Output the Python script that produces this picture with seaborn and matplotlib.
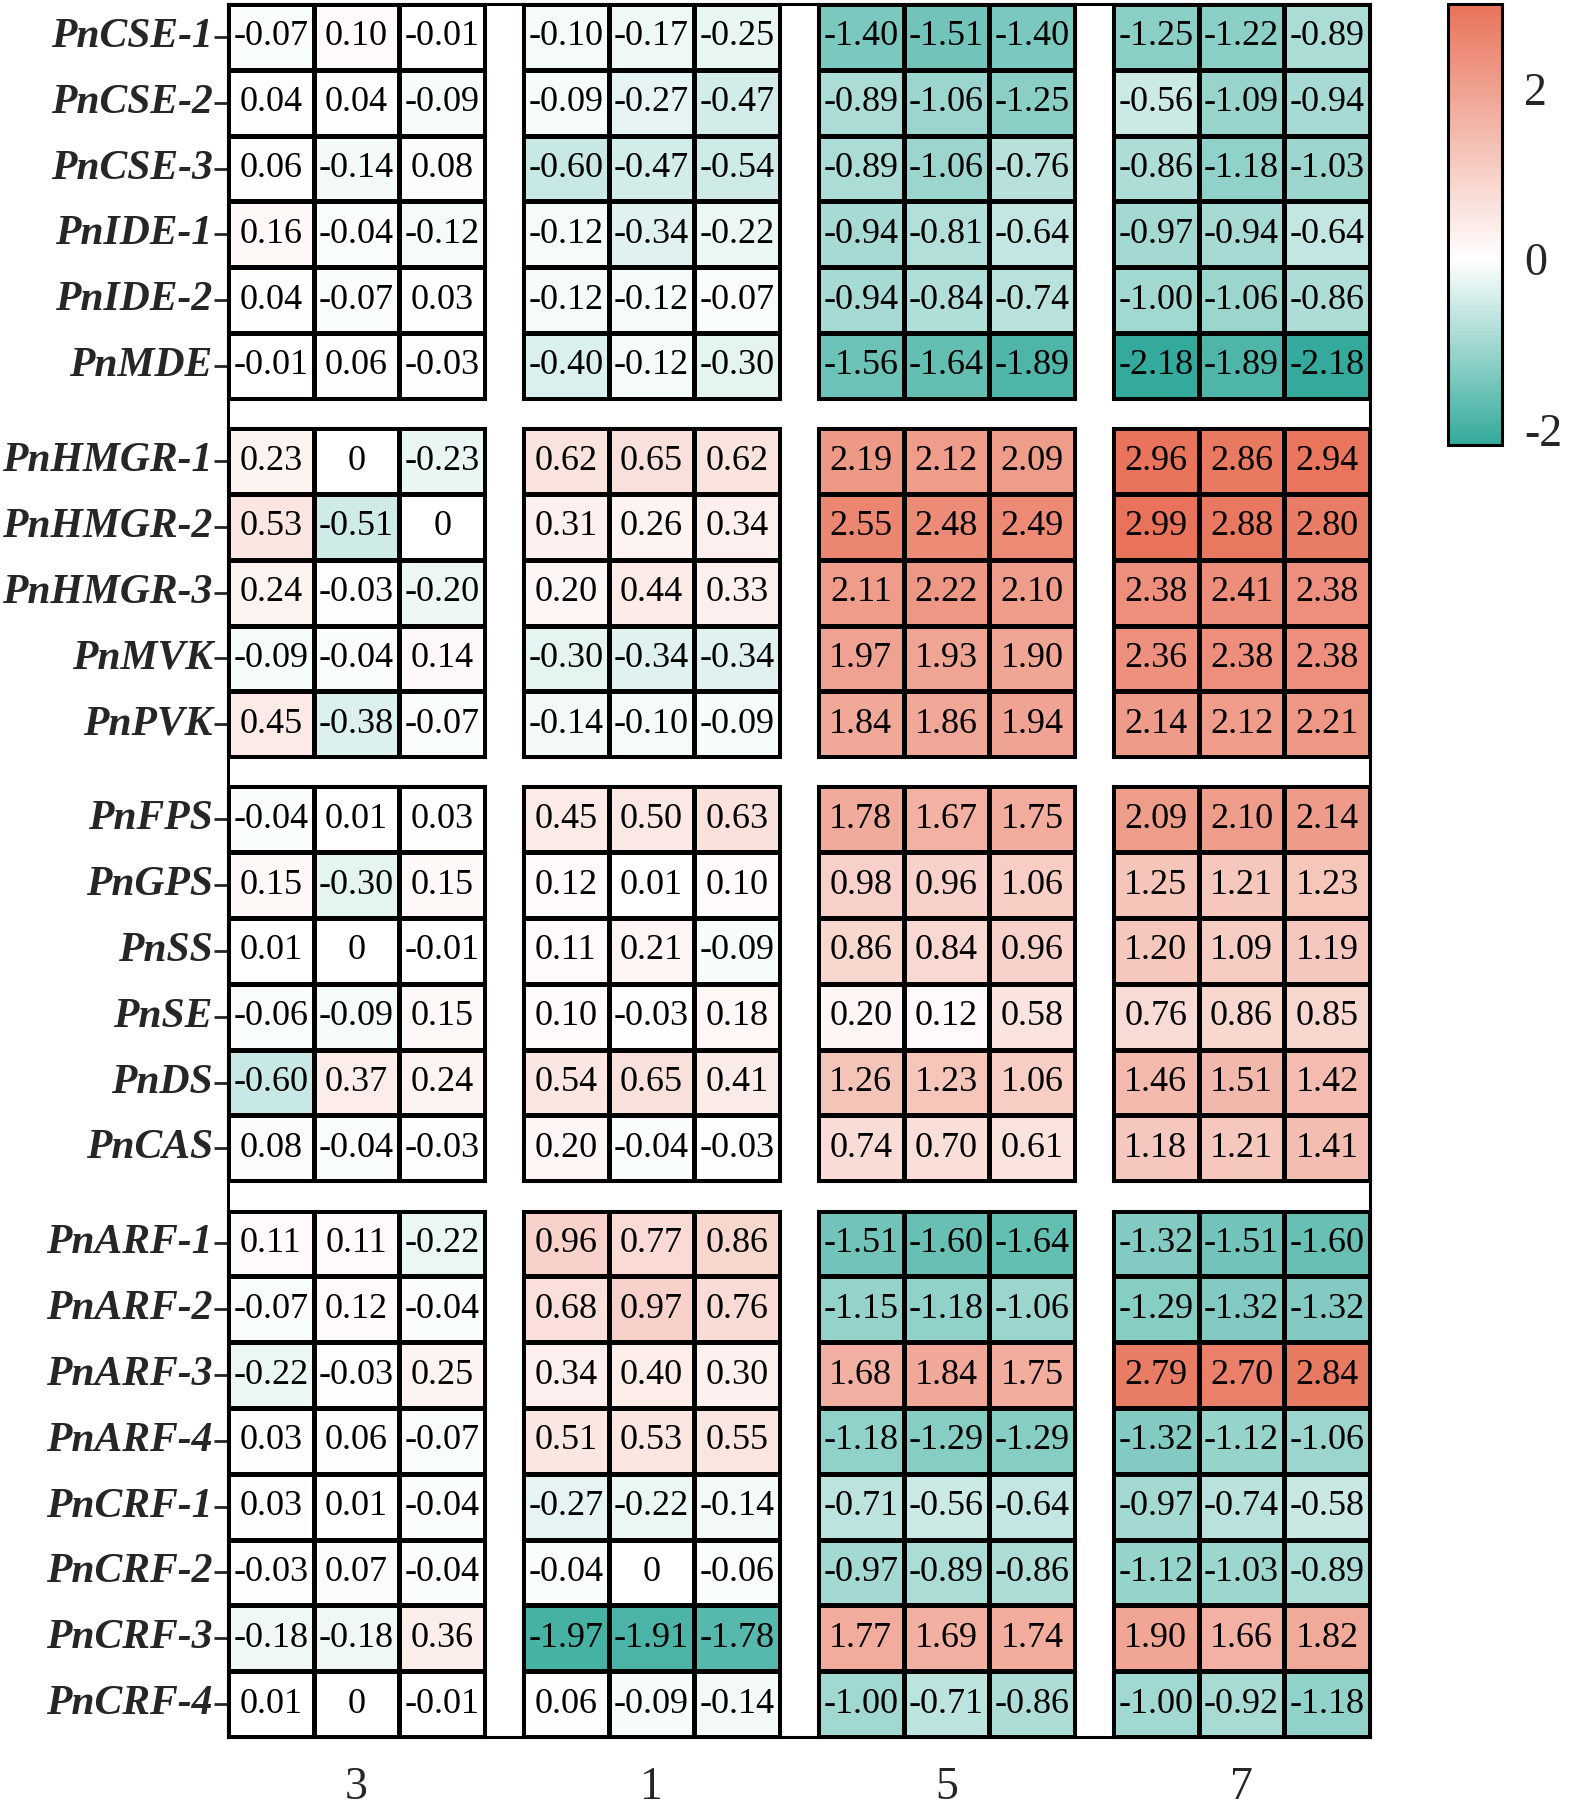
import numpy as np
import pandas as pd
import matplotlib
import matplotlib.pyplot as plt
from matplotlib.colors import LinearSegmentedColormap
import seaborn as sns

# --- data ---
time_labels = ["3", "1", "5", "7"]

genes_a = ["PnCSE-1", "PnCSE-2", "PnCSE-3", "PnIDE-1", "PnIDE-2", "PnMDE"]
values_a = [
    [-0.07, 0.10, -0.01, -0.10, -0.17, -0.25, -1.40, -1.51, -1.40, -1.25, -1.22, -0.89],
    [0.04, 0.04, -0.09, -0.09, -0.27, -0.47, -0.89, -1.06, -1.25, -0.56, -1.09, -0.94],
    [0.06, -0.14, 0.08, -0.60, -0.47, -0.54, -0.89, -1.06, -0.76, -0.86, -1.18, -1.03],
    [0.16, -0.04, -0.12, -0.12, -0.34, -0.22, -0.94, -0.81, -0.64, -0.97, -0.94, -0.64],
    [0.04, -0.07, 0.03, -0.12, -0.12, -0.07, -0.94, -0.84, -0.74, -1.00, -1.06, -0.86],
    [-0.01, 0.06, -0.03, -0.40, -0.12, -0.30, -1.56, -1.64, -1.89, -2.18, -1.89, -2.18],
]

genes_b = ["PnHMGR-1", "PnHMGR-2", "PnHMGR-3", "PnMVK", "PnPVK"]
values_b = [
    [0.23, 0, -0.23, 0.62, 0.65, 0.62, 2.19, 2.12, 2.09, 2.96, 2.86, 2.94],
    [0.53, -0.51, 0, 0.31, 0.26, 0.34, 2.55, 2.48, 2.49, 2.99, 2.88, 2.80],
    [0.24, -0.03, -0.20, 0.20, 0.44, 0.33, 2.11, 2.22, 2.10, 2.38, 2.41, 2.38],
    [-0.09, -0.04, 0.14, -0.30, -0.34, -0.34, 1.97, 1.93, 1.90, 2.36, 2.38, 2.38],
    [0.45, -0.38, -0.07, -0.14, -0.10, -0.09, 1.84, 1.86, 1.94, 2.14, 2.12, 2.21],
]

genes_c = ["PnFPS", "PnGPS", "PnSS", "PnSE", "PnDS", "PnCAS"]
values_c = [
    [-0.04, 0.01, 0.03, 0.45, 0.50, 0.63, 1.78, 1.67, 1.75, 2.09, 2.10, 2.14],
    [0.15, -0.30, 0.15, 0.12, 0.01, 0.10, 0.98, 0.96, 1.06, 1.25, 1.21, 1.23],
    [0.01, 0, -0.01, 0.11, 0.21, -0.09, 0.86, 0.84, 0.96, 1.20, 1.09, 1.19],
    [-0.06, -0.09, 0.15, 0.10, -0.03, 0.18, 0.20, 0.12, 0.58, 0.76, 0.86, 0.85],
    [-0.60, 0.37, 0.24, 0.54, 0.65, 0.41, 1.26, 1.23, 1.06, 1.46, 1.51, 1.42],
    [0.08, -0.04, -0.03, 0.20, -0.04, -0.03, 0.74, 0.70, 0.61, 1.18, 1.21, 1.41],
]

genes_d = ["PnARF-1", "PnARF-2", "PnARF-3", "PnARF-4",
           "PnCRF-1", "PnCRF-2", "PnCRF-3", "PnCRF-4"]
values_d = [
    [0.11, 0.11, -0.22, 0.96, 0.77, 0.86, -1.51, -1.60, -1.64, -1.32, -1.51, -1.60],
    [-0.07, 0.12, -0.04, 0.68, 0.97, 0.76, -1.15, -1.18, -1.06, -1.29, -1.32, -1.32],
    [-0.22, -0.03, 0.25, 0.34, 0.40, 0.30, 1.68, 1.84, 1.75, 2.79, 2.70, 2.84],
    [0.03, 0.06, -0.07, 0.51, 0.53, 0.55, -1.18, -1.29, -1.29, -1.32, -1.12, -1.06],
    [0.03, 0.01, -0.04, -0.27, -0.22, -0.14, -0.71, -0.56, -0.64, -0.97, -0.74, -0.58],
    [-0.03, 0.07, -0.04, -0.04, 0, -0.06, -0.97, -0.89, -0.86, -1.12, -1.03, -0.89],
    [-0.18, -0.18, 0.36, -1.97, -1.91, -1.78, 1.77, 1.69, 1.74, 1.90, 1.66, 1.82],
    [0.01, 0, -0.01, 0.06, -0.09, -0.14, -1.00, -0.71, -0.86, -1.00, -0.92, -1.18],
]

row_groups = [(genes_a, values_a), (genes_b, values_b),
              (genes_c, values_c), (genes_d, values_d)]

# --- style ---
sns.set_style("white")
plt.rcParams["font.family"] = "serif"
plt.rcParams["font.serif"] = ["Liberation Serif", "DejaVu Serif"]
plt.rcParams["axes.unicode_minus"] = False

all_vals = np.concatenate([np.array(v, dtype=float).ravel() for _, v in row_groups])
vmin, vmax = all_vals.min(), all_vals.max()
zero_pos = (0 - vmin) / (vmax - vmin)
cmap = LinearSegmentedColormap.from_list(
    "tealred", [(0, "#33aa9b"), (zero_pos, "#ffffff"), (1, "#e8735a")])

LW = 2.2
W, H = 1575, 1811
fig = plt.figure(figsize=(W / 100, H / 100), dpi=100)


def pos(x0, y0, x1, y1):
    # pixel box (top-left origin) -> figure fraction
    return [x0 / W, 1 - y1 / H, (x1 - x0) / W, (y1 - y0) / H]


L, R, T, B = 228, 1370, 4, 1737
gx, gy = 38, 29.3
n_rows = sum(len(g) for g, _ in row_groups)
cw = (R - L - 3 * gx) / 12
ch = (B - T - 3 * gy) / n_rows

# outer frame
frame = fig.add_axes(pos(L, T, R, B))
frame.set_xticks([])
frame.set_yticks([])
for sp in frame.spines.values():
    sp.set_visible(True)
    sp.set_linewidth(LW)
    sp.set_color("black")

mappable = None
y_top = T
for gi, (genes, vals) in enumerate(row_groups):
    n = len(genes)
    arr = np.array(vals, dtype=float)
    for ci in range(4):
        block = pd.DataFrame(arr[:, ci * 3:(ci + 1) * 3], index=genes)
        annot = block.map(lambda v: "0" if v == 0 else f"{v:.2f}").values
        x0 = L + ci * (3 * cw + gx)
        ax = fig.add_axes(pos(x0, y_top, x0 + 3 * cw, y_top + n * ch))
        sns.heatmap(block, ax=ax, cmap=cmap, vmin=vmin, vmax=vmax,
                    annot=annot, fmt="", cbar=False,
                    linewidths=LW, linecolor="black",
                    annot_kws={"color": "black", "fontsize": 26},
                    xticklabels=False, yticklabels=(ci == 0))
        mappable = ax.collections[0]
        for sp in ax.spines.values():
            sp.set_visible(True)
            sp.set_linewidth(LW)
            sp.set_color("black")
        ax.set_xlabel("")
        ax.set_ylabel("")
        if ci == 0:
            ax.tick_params(axis="y", left=True, length=10, width=2, pad=1,
                           labelsize=30)
            for lab in ax.get_yticklabels():
                lab.set_rotation(0)
                lab.set_fontweight("bold")
                lab.set_fontstyle("italic")
        else:
            ax.tick_params(axis="y", left=False)
        if gi == len(row_groups) - 1:
            ax.set_xticks([1.5])
            ax.set_xticklabels([time_labels[ci]], fontsize=33)
            ax.tick_params(axis="x", bottom=True, length=0, pad=21)
    y_top += n * ch + gy

# colorbar
cax = fig.add_axes(pos(1448, 4, 1502, 445))
cb = fig.colorbar(mappable, cax=cax)
cb.set_ticks([-2, 0, 2])
cb.set_ticklabels(["-2", "0", "2"])
cb.outline.set_linewidth(LW)
cb.outline.set_edgecolor("black")
cax.tick_params(direction="in", left=True, right=True, length=9, width=2,
                labelsize=33, pad=16)

fig.savefig("out.png", dpi=100)
